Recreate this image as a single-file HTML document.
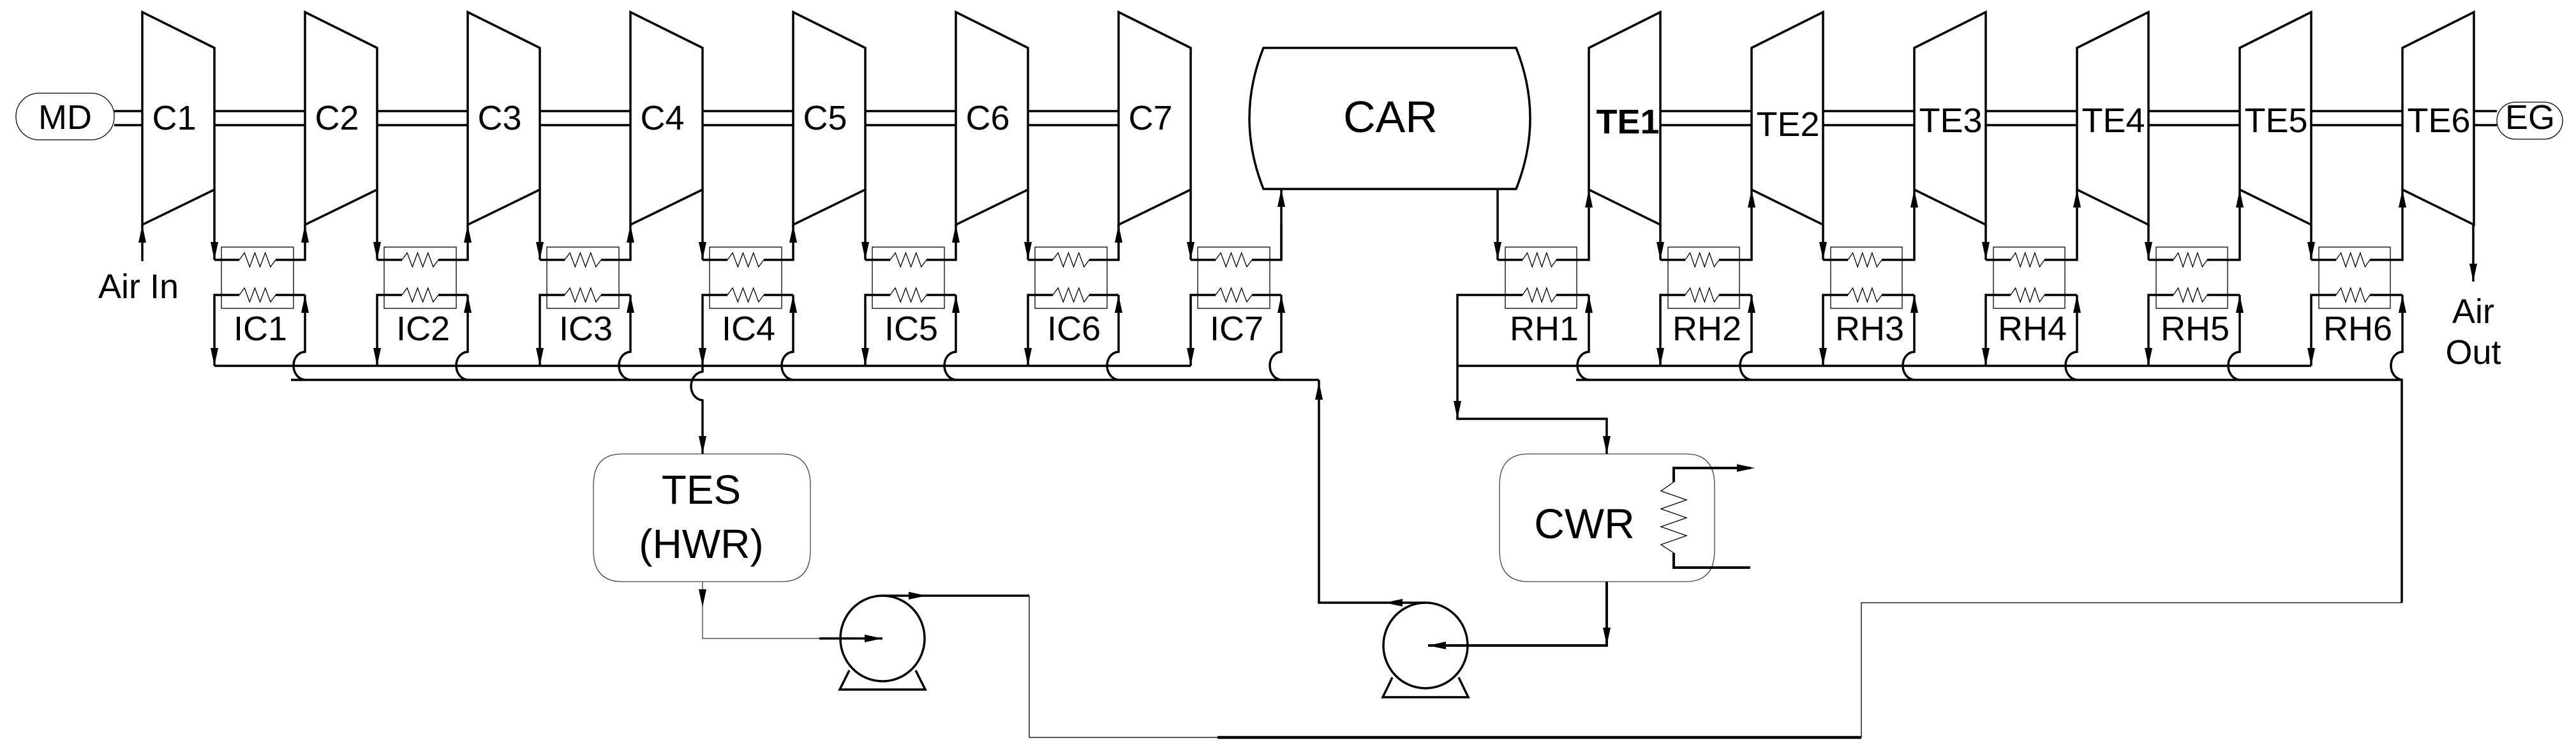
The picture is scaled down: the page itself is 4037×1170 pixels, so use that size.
<!DOCTYPE html>
<html><head><meta charset="utf-8">
<style>
html,body{margin:0;padding:0;background:#fff;}
svg{display:block;}
text{font-family:"Liberation Sans",sans-serif;fill:#000;}
</style></head>
<body>
<svg id="s" xmlns="http://www.w3.org/2000/svg" width="4037" height="1170" viewBox="0 0 4037 1170">
<rect width="4037" height="1170" fill="#fff"/>
<g id="g" fill="none" stroke="#000" stroke-width="3.5" stroke-linejoin="miter"></g>
<g font-size="54" text-anchor="middle">
<text x="102" y="202">MD</text>
<text x="273" y="203">C1</text>
<text x="528" y="203">C2</text>
<text x="783" y="203">C3</text>
<text x="1038" y="203">C4</text>
<text x="1293" y="203">C5</text>
<text x="1548" y="203">C6</text>
<text x="1803" y="203">C7</text>
<text x="408" y="533">IC1</text>
<text x="663" y="533">IC2</text>
<text x="918" y="533">IC3</text>
<text x="1173" y="533">IC4</text>
<text x="1428" y="533">IC5</text>
<text x="1683" y="533">IC6</text>
<text x="1938" y="533">IC7</text>
<text x="217" y="467">Air In</text>
<text x="2551" y="209" font-weight="bold">TE1</text>
<text x="2802" y="213">TE2</text>
<text x="3057" y="207">TE3</text>
<text x="3312" y="207">TE4</text>
<text x="3567" y="207">TE5</text>
<text x="3822" y="207">TE6</text>
<text x="3965" y="202">EG</text>
<text x="2420" y="533">RH1</text>
<text x="2675" y="533">RH2</text>
<text x="2930" y="533">RH3</text>
<text x="3185" y="533">RH4</text>
<text x="3440" y="533">RH5</text>
<text x="3695" y="533">RH6</text>
<text x="3876" y="506">Air</text>
<text x="3876" y="570">Out</text>
<text x="2179" y="207" font-size="70">CAR</text>
<text x="1099" y="789" font-size="64">TES</text>
<text x="1099" y="874" font-size="64">(HWR)</text>
<text x="2483" y="843" font-size="66">CWR</text>
</g>
</svg>
<script>
var g=document.getElementById('g');var NS='http://www.w3.org/2000/svg';
function el(t,a){var e=document.createElementNS(NS,t);for(var k in a)e.setAttribute(k,a[k]);g.appendChild(e);return e;}
function P(d,w,c){return el('path',{d:d,'stroke-width':w||3.5,stroke:c||'#000'});}
function arr(x,y,dir){var L=28,h=6,p;
 if(dir=='d')p=[x,y,x-h,y-L,x+h,y-L];else if(dir=='u')p=[x,y,x-h,y+L,x+h,y+L];
 else if(dir=='r')p=[x,y,x-L,y-h,x-L,y+h];else p=[x,y,x+L,y-h,x+L,y+h];
 el('polygon',{points:p.join(' '),fill:'#000',stroke:'none'});}
function coil(a,b,y){var n=7,d='M'+a+' '+y,s=(b-a)/n;for(var i=1;i<n;i++){d+=' L'+(a+s*i)+' '+(y+(i%2?-11:11));}d+=' L'+b+' '+y;P(d,1.3);}
function hop(x){P('M'+x+' 595 C'+(x-24)+' 592 '+(x-24)+' 553 '+x+' 551 L'+x+' 462');}
el('rect',{x:25,y:146,width:154,height:73,rx:36,ry:36,'stroke-width':1.3});
el('rect',{x:3913,y:160,width:103,height:58,rx:29,ry:29,'stroke-width':1.3});
P('M179 174 L223 174 M179 196 L223 196');
P('M3876 174 L3913 174 M3876 196 L3913 196');
for(var i=0;i<7;i++){var L=223+255*i,R=L+113,N=R+142;
 P('M'+L+' 19 L'+R+' 75 L'+R+' 297 L'+L+' 352 Z');
 if(i<6)P('M'+R+' 174 L'+N+' 174 M'+R+' 196 L'+N+' 196');
 P('M'+R+' 297 L'+R+' 407');arr(R,407,'d');
 el('rect',{x:R+11,y:387,width:113,height:96,'stroke-width':1.3});
 P('M'+R+' 407 L'+(R+39)+' 407 M'+(R+96)+' 407 L'+N+' 407 L'+N+' 352');coil(R+39,R+96,407);
 if(i<6)arr(N,352,'u');else{P('M'+N+' 407 L'+N+' 296');arr(N,296,'u');}
 P('M'+N+' 462 L'+(R+96)+' 462 M'+(R+39)+' 462 L'+R+' 462 L'+R+' 573');coil(R+39,R+96,462);arr(R,573,'d');
 hop(N);arr(N,462,'u');
}
arr(223,352,'u');P('M223 352 L223 409');
P('M336 573 L1866 573');
P('M456 595 L2067 595');
P('M1101 573 L1101 582 C1077 586 1077 624 1101 627 L1101 711');arr(1101,711,'d');
el('path',{d:'M975 711 L1225 711 Q1270 711 1270 760 L1270 862 Q1270 911 1225 911 L975 911 Q930 911 930 862 L930 760 Q930 711 975 711 Z','stroke-width':1.3,stroke:'#444'});
el('path',{d:'M2395 711 L2642 711 Q2687 711 2687 760 L2687 862 Q2687 911 2642 911 L2395 911 Q2350 911 2350 862 L2350 760 Q2350 711 2395 711 Z','stroke-width':1.3,stroke:'#444'});
P('M1101 911 L1101 1000 L1284 1000',1.5,'#555');arr(1101,951,'d');
P('M1284 1000 L1383 1000');arr(1383,1000,'r');
function pump(cx,cy,by){el('ellipse',{cx:cx,cy:cy,rx:66,ry:67,'stroke-width':3.5});
 P('M'+(cx-52)+' '+(cy+50)+' L'+(cx-67)+' '+by+' L'+(cx+67)+' '+by+' L'+(cx+52)+' '+(cy+50));}
pump(1383,1000,1080);pump(2234,1011,1092);
P('M1383 933 L1613 933');arr(1452,933,'r');
P('M1613 933 L1613 1155 L1908 1155',1.5,'#222');P('M1908 1155 L2917 1155',4.5);
P('M2917 1155 L2917 944 L3764 944',1.5,'#222');
P('M2234 944 L2067 944 L2067 595');arr(2170,944,'l');arr(2067,598,'u');
P('M2518 911 L2518 1011 L2238 1011',4);arr(2518,1011,'d');arr(2238,1011,'l');
P('M2743 733 L2623 733 L2623 755',4);arr(2750,733,'r');
var d='M2623 755';for(var k=1;k<8;k++)d+=' L'+(k%2?2603:2643)+' '+(755+k*14);d+=' L2623 866';P(d,1.3);
P('M2623 866 L2623 889 L2743 889',4);
P('M1980 75 L2376 75 Q2420 185 2376 296 L1980 296 Q1936 185 1980 75 Z');
for(var j=0;j<6;j++){var N=2490+255*j,W=N+112,X=N-143;
 P('M'+N+' 75 L'+W+' 19 L'+W+' 352 L'+N+' 297 Z');
 if(j<5)P('M'+W+' 174 L'+(W+143)+' 174 M'+W+' 196 L'+(W+143)+' 196');
 P('M'+X+' '+(j==0?296:352)+' L'+X+' 407');arr(X,407,'d');
 el('rect',{x:X+12,y:387,width:112,height:96,'stroke-width':1.3});
 P('M'+X+' 407 L'+(X+39)+' 407 M'+(X+92)+' 407 L'+N+' 407 L'+N+' 297');coil(X+39,X+92,407);arr(N,297,'u');
 if(j==0){P('M'+N+' 462 L'+(X+92)+' 462 M'+(X+39)+' 462 L2284 462 L2284 656 L2518 656 L2518 711');coil(X+39,X+92,462);arr(2284,656,'d');arr(2518,711,'d');}
 else{P('M'+N+' 462 L'+(X+92)+' 462 M'+(X+39)+' 462 L'+X+' 462 L'+X+' 573');coil(X+39,X+92,462);arr(X,573,'d');}
 hop(N);arr(N,462,'u');
}
P('M3876 352 L3876 441');arr(3876,441,'d');
P('M2284 573 L3622 573');P('M2470 595 L3764 595 L3764 944');
</script>
</body></html>
